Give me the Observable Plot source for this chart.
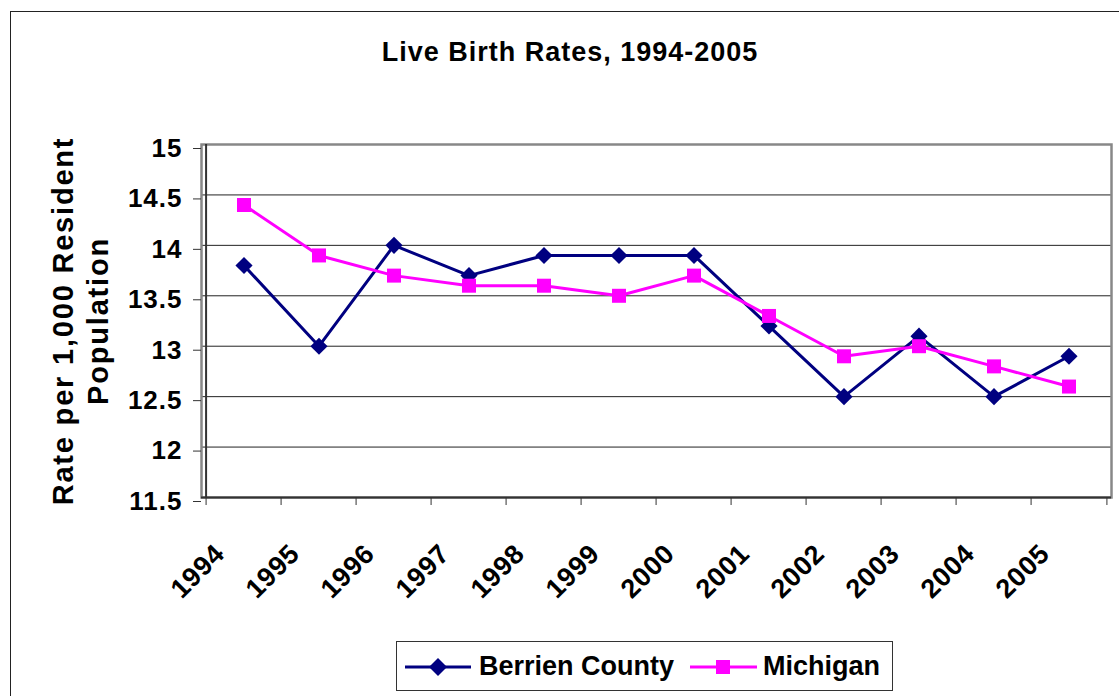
<!DOCTYPE html>
<html>
<head>
<meta charset="utf-8">
<script src="https://cdn.jsdelivr.net/npm/d3@7"></script>
<script src="https://cdn.jsdelivr.net/npm/@observablehq/plot@0.6"></script>
<style>
  html, body { margin: 0; padding: 0; background: #fff; }
  #wrap { position: relative; width: 1119px; height: 696px; overflow: hidden; font-family: "Liberation Sans", Arial, sans-serif; }
  #outer { position: absolute; left: 10px; top: 11px; width: 1200px; height: 800px; border: 1.5px solid #222; box-sizing: border-box; }
  #chart { position: absolute; left: 0; top: 0; }
  #title { position: absolute; left: 0; width: 1140px; top: 39px; text-align: center; font-size: 27px; line-height: 27px; font-weight: bold; letter-spacing: 1px; color: #000; }
  #legend { position: absolute; left: 396px; top: 641px; width: 497px; height: 50px; border: 1.5px solid #333; box-sizing: border-box; background: #fff; }
  #legend .sw { position: absolute; top: 0; }
  #legend .lab { position: absolute; top: 10px; font-size: 27px; line-height: 28px; font-weight: bold; color: #000; white-space: nowrap; }
  g[aria-label="y-axis tick label"] text { letter-spacing: 1px; }
  g[aria-description="ylabel"] text { letter-spacing: 1.8px; }
  g[aria-description="xlabels"] text { letter-spacing: 0.6px; }
</style>
</head>
<body>
<div id="wrap">
  <div id="outer"></div>
  <div id="chart"></div>
  <div id="title">Live Birth Rates, 1994-2005</div>
  <div id="legend">
    <svg class="sw" style="left:7px" width="68" height="48"><line x1="1" x2="67" y1="25" y2="25" stroke="#000080" stroke-width="3"/><path d="M34,16 L43,25 L34,34 L25,25 Z" fill="#000080"/></svg>
    <div class="lab" style="left:82px">Berrien County</div>
    <svg class="sw" style="left:293px" width="68" height="48"><line x1="0" x2="67" y1="25" y2="25" stroke="#FF00FF" stroke-width="3"/><rect x="26" y="18" width="14" height="14" fill="#FF00FF"/></svg>
    <div class="lab" style="left:366px">Michigan</div>
  </div>
</div>
<script>
const years = ["1994","1995","1996","1997","1998","1999","2000","2001","2002","2003","2004","2005"];
const berrien = [13.8, 13.0, 14.0, 13.7, 13.9, 13.9, 13.9, 13.2, 12.5, 13.1, 12.5, 12.9];
const michigan = [14.4, 13.9, 13.7, 13.6, 13.6, 13.5, 13.7, 13.3, 12.9, 13.0, 12.8, 12.6];
const yTicks = [11.5, 12, 12.5, 13, 13.5, 14, 14.5, 15];
const gridTicks = [12, 12.5, 13, 13.5, 14, 14.5];
const yLabel = "Rate per 1,000 Resident\nPopulation";
const seriesNames = ["Berrien County", "Michigan"];

const berrienRows = years.map((y, i) => ({year: y, value: berrien[i], series: seriesNames[0]}));
const michiganRows = years.map((y, i) => ({year: y, value: michigan[i], series: seriesNames[1]}));

const W = 1119, H = 696, mL = 201, mR = 8, mT = 144, mB = 199;
const bw = (W - mL - mR) / years.length;
const font = "Liberation Sans, Arial, sans-serif";

const chart = Plot.plot({
  width: W, height: H,
  marginLeft: mL, marginRight: mR, marginTop: mT, marginBottom: mB,
  style: {fontFamily: font, background: "transparent", overflow: "visible", color: "#000"},
  x: {type: "band", domain: years, padding: 0},
  y: {domain: [11.5, 15]},
  marks: [
    Plot.ruleY(gridTicks, {stroke: "#222", strokeWidth: 1}),
    Plot.frame({stroke: "#888", strokeWidth: 2.5}),
    Plot.ruleY([11.5], {stroke: "#333", strokeWidth: 2}),
    Plot.ruleX([years[0]], {dx: -bw / 2, stroke: "#333", strokeWidth: 2}),
    Plot.axisY(yTicks, {tickSize: 8, tickPadding: 11, dy: 4, fontSize: 26, fontWeight: "bold", stroke: "#333", label: null, tickFormat: d => String(d)}),
    Plot.axisX({tickSize: 8, dx: -bw / 2, tickFormat: () => "", stroke: "#333", label: null}),
    Plot.axisX([years[years.length - 1]], {tickSize: 8, dx: bw / 2, tickFormat: () => "", stroke: "#333", label: null}),
    Plot.text(years, {x: d => d, text: d => d, frameAnchor: "bottom", rotate: -45, textAnchor: "end", lineAnchor: "bottom", dx: -18, dy: 58, fontSize: 27, fontWeight: "bold", fill: "#000", ariaDescription: "xlabels"}),
    Plot.text([yLabel], {text: d => d, frameAnchor: "left", textAnchor: "middle", rotate: -90, dx: -122, fontSize: 29, fontWeight: "bold", lineHeight: 1.2, fill: "#000", ariaDescription: "ylabel"}),
    Plot.line(berrienRows, {x: "year", y: "value", stroke: "#000080", strokeWidth: 3}),
    Plot.line(michiganRows, {x: "year", y: "value", stroke: "#FF00FF", strokeWidth: 3}),
    Plot.dot(berrienRows, {x: "year", y: "value", symbol: "diamond2", r: 7.7, fill: "#000080", stroke: "none"}),
    Plot.dot(michiganRows, {x: "year", y: "value", symbol: "square", r: 7.9, fill: "#FF00FF", stroke: "none"})
  ]
});
document.getElementById("chart").appendChild(chart);
</script>
</body>
</html>
